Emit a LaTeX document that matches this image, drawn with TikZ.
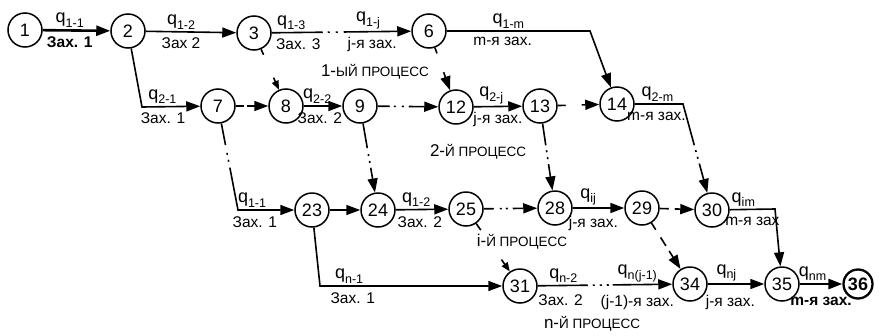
\documentclass[tikz,border=0pt]{standalone}
\usepackage{fontspec}
\setmainfont{Liberation Sans}
\usetikzlibrary{arrows.meta}
\newcommand{\qq}[1]{{\fontsize{18}{18}\selectfont q}\raisebox{-.55ex}{\fontsize{12.5}{12.5}\selectfont#1}}
\newcommand{\proc}[2]{#1-{\fontsize{13.5}{13.5}\selectfont #2 ПРОЦЕСС}}

\begin{document}
\begin{tikzpicture}[x=1pt,y=-1pt,>={Triangle[length=14pt,width=10pt]},
    state/.style={circle,draw,line width=1.5pt,minimum size=34pt,inner sep=0pt,font=\fontsize{18}{18}\selectfont},
    every edge/.style={draw,line width=1.6pt},
    lbl/.style={font=\fontsize{15.5}{15.5}\selectfont,inner sep=2pt},
    blbl/.style={font=\bfseries\fontsize{15.5}{15.5}\selectfont,inner sep=2pt},
    tiny/.style={-{Triangle[length=9pt,width=7pt]}}]
\useasboundingbox (0,0) rectangle (881,335);
    % processes
    \node[state]  (n1)  at (25,30)   {1};
    \node[state]  (n2)  at (128,31)  {2};
    \node[state]  (n3)  at (254,33)  {3};
    \node[state]  (n6)  at (429,31)  {6};
    \node[state]  (n7)  at (218,106) {7};
    \node[state]  (n8)  at (286,106) {8};
    \node[state]  (n9)  at (360,106) {9};
    \node[state]  (n12) at (456,107) {12};
    \node[state]  (n13) at (540,106) {13};
    \node[state]  (n14) at (617,104) {14};
    \node[state]  (n23) at (312,210) {23};
    \node[state]  (n24) at (378,210) {24};
    \node[state]  (n25) at (466,209) {25};
    \node[state]  (n28) at (555,208) {28};
    \node[state]  (n29) at (642,208) {29};
    \node[state]  (n30) at (712,210) {30};
    \node[state]  (n31) at (520,286) {31};
    \node[state]  (n34) at (690,284) {34};
    \node[state]  (n35) at (782,284) {35};
    \node[state,line width=2.3pt,minimum size=29pt,font=\bfseries\fontsize{18}{18}\selectfont] (n36) at (858,284) {36};
    \coordinate (c27)   at (142,107);
    \coordinate (c614)  at (590,31);
    \coordinate (c1430) at (683,104);
    \coordinate (c723)  at (238,210);
    \coordinate (c3035) at (775,209);
    \coordinate (c2331) at (320,286);
    \node[font=\fontsize{17}{17}\selectfont] (p1) at (375,72)  {\proc{1}{ЫЙ}};
    \node[font=\fontsize{17}{17}\selectfont] (p2) at (478,152) {\proc{2}{Й}};
    \node[font=\fontsize{17}{17}\selectfont] (pi) at (522,242) {\proc{i}{Й}};
    \node[font=\fontsize{17}{17}\selectfont] (pn) at (592,324) {\proc{n}{Й}};
    \path[->] (n1)  edge[line width=2.6pt] node[lbl,above,pos=.4] {\qq{1-1}} node[blbl,below=3pt,pos=.4] {Зах. 1} (n2)
              (n2)  edge node[lbl,above,pos=.39] {\qq{1-2}} node[lbl,below=3pt,pos=.39] {Зах 2} (n3)
              (n3)  edge[dash pattern=on 51pt off 5pt on 2pt off 6pt on 2pt off 6pt on 200pt]
                    node[lbl,above,pos=.14] {\qq{1-3}} node[lbl,below=3pt,pos=.19] {Зах. 3}
                    node[lbl,above,pos=.69] {\qq{1-j}} node[lbl,below=3pt,pos=.72] {j-я зах.} (n6)
              (n7)  edge[dash pattern=on 8pt off 3pt on 40pt] (n8)
              (n8)  edge node[lbl,above,pos=.35] {\qq{2-2}} node[lbl,below=4pt,pos=.42] {Зах. 2} (n9)
              (n9)  edge[dash pattern=on 12pt off 4pt on 2pt off 6pt on 2pt off 5pt on 100pt] (n12)
              (n12) edge node[lbl,above,pos=.36] {\qq{2-j}} node[lbl,below=3pt,pos=.5] {j-я зах.} (n13)
              (n13) edge[dash pattern=on 8pt off 16pt on 40pt] (n14)
              (n23) edge (n24)
              (n24) edge node[lbl,above,pos=.39] {\qq{1-2}} node[lbl,below=4pt,pos=.46] {Зах. 2} (n25)
              (n25) edge[dash pattern=on 10pt off 6pt on 2pt off 4pt on 2pt off 5pt on 100pt] (n28)
              (n28) edge node[lbl,above,pos=.3] {\qq{ij}} node[lbl,below=5pt,pos=.4] {j-я зах.} (n29)
              (n29) edge[dash pattern=on 9pt off 6pt on 40pt] (n30)
              (n9)  edge[dash pattern=on 25pt off 6pt on 2pt off 5pt on 2pt off 5pt on 100pt] (n24)
              (n13) edge[dash pattern=on 22pt off 5pt on 2pt off 5pt on 2pt off 5pt on 100pt] (n28)
              (n31) edge[dash pattern=on 50pt off 5pt on 2pt off 5pt on 2pt off 5pt on 2pt off 4pt on 100pt]
                    node[lbl,above,pos=.19] {\qq{n-2}} node[lbl,below=6pt,pos=.17] {Зах. 2}
                    node[lbl,above,pos=.74] {\qq{n(j-1)}} node[lbl,below=8pt,pos=.74] {(j-1)-я зах.} (n34)
              (n34) edge node[lbl,above,pos=.33] {\qq{nj}} node[lbl,below=8pt,pos=.4] {j-я зах.} (n35)
              (n35) edge[line width=2.6pt] node[lbl,above,pos=.3] {\qq{nm}} node[blbl,below=10pt,pos=.5] {m-я зах.} (n36)
              (n6)  edge[dash pattern=on 6pt off 20pt on 30pt] (n12)
              (n29) edge[dash pattern=on 8pt off 9pt on 10pt off 6pt on 30pt] (n34)
              ;
    \path[tiny] (n3)  edge[dash pattern=on 6pt off 25pt on 30pt] (n8)
                (n25) edge[dash pattern=on 8pt off 36pt on 30pt] (n31)
                ;
    \draw[->,line width=1.6pt] (n2) -- (c27) -- node[lbl,above,pos=.35] {\qq{2-1}} node[lbl,below=3pt,pos=.36] {Зах. 1} (n7);
    \draw[->,line width=1.6pt] (n6) -- node[lbl,above,pos=.43] {\qq{1-m}} node[lbl,below=3pt,pos=.39] {m-я зах.} (c614) -- (n14);
    \draw[->,line width=1.6pt,dash pattern=on 91pt off 5pt on 2pt off 5pt on 2pt off 5pt on 200pt]
        (n14) -- node[lbl,above,pos=.47] {\qq{2-m}} node[lbl,below=5pt,pos=.45] {m-я зах.} (c1430) -- (n30);
    \draw[->,line width=1.6pt,dash pattern=on 22pt off 8pt on 2pt off 5pt on 2pt off 6pt on 300pt]
        (n7) -- (c723) -- node[lbl,above,pos=.25] {\qq{1-1}} node[lbl,below=4pt,pos=.3] {Зах. 1} (n23);
    \draw[->,line width=1.6pt] (n30) -- node[lbl,above,pos=.3] {\qq{im}} node[lbl,below=5pt,pos=.5] {m-я зах} (c3035) -- (n35);
    \draw[->,line width=1.6pt] (n23) -- (c2331) -- node[lbl,above,pos=.16] {\qq{n-1}} node[lbl,below=4pt,pos=.18] {Зах. 1} (n31);
\end{tikzpicture}
\end{document}
